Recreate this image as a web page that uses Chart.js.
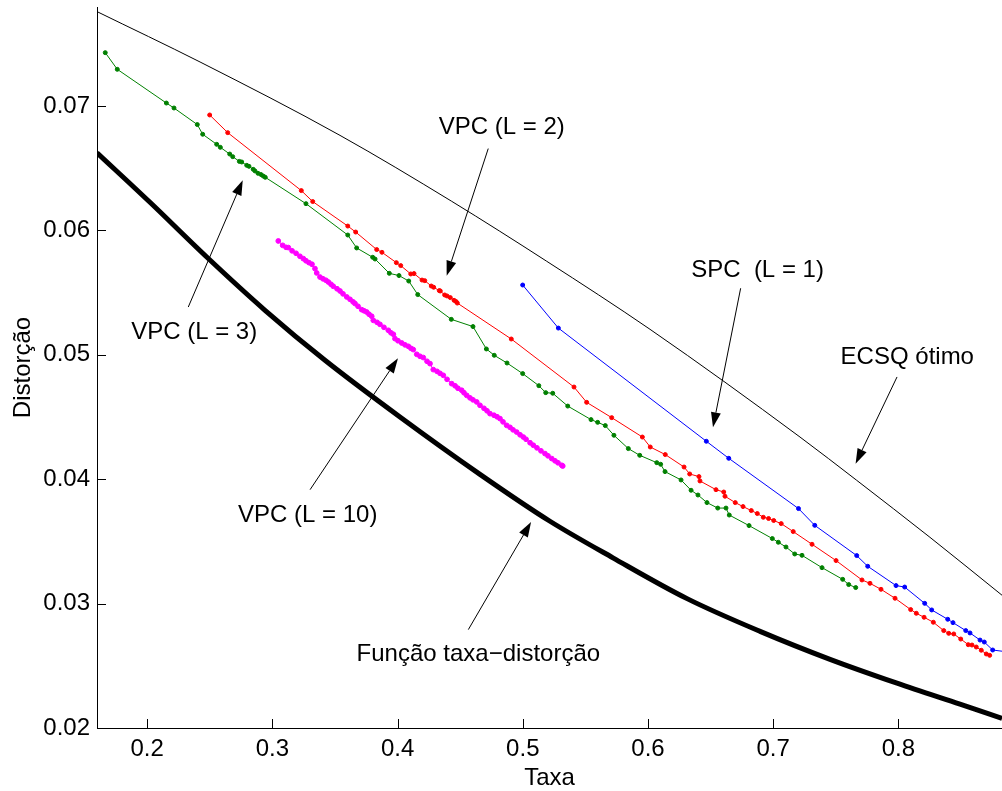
<!DOCTYPE html>
<html>
<head>
<meta charset="utf-8">
<script src="https://cdn.jsdelivr.net/npm/chart.js@4/dist/chart.umd.min.js"></script>
<style>
  body { margin: 0; background: #fff; }
  canvas { display: block; }
</style>
</head>
<body>
<canvas id="rd" width="1002" height="791"></canvas>
<script>
// Funcao taxa-distorcao (thick black)
var rdX = [0.1599, 0.2022, 0.2486, 0.2941, 0.3420, 0.4019, 0.4658, 0.5217, 0.5720, 0.6312, 0.6895, 0.7454, 0.7989, 0.8492, 0.8828];
var rdY = [0.06624, 0.06226, 0.05776, 0.05358, 0.04956, 0.04500, 0.04039, 0.03662, 0.03368, 0.03040, 0.02777, 0.02552, 0.02360, 0.02191, 0.02078];

// ECSQ otimo (thin black)
var ecsqX = [0.1599, 0.2422, 0.3540, 0.4432, 0.5191, 0.6016, 0.7214, 0.7667, 0.8252, 0.8828];
var ecsqY = [0.07759, 0.07354, 0.06764, 0.06234, 0.05752, 0.05205, 0.04339, 0.03991, 0.03533, 0.03067];

// SPC (L = 1)
var spcX = [0.4999, 0.5284, 0.6466, 0.6645, 0.7202, 0.7332, 0.7667, 0.7755, 0.7981, 0.8050, 0.8210, 0.8266, 0.8394, 0.8436, 0.8538, 0.8572, 0.8652, 0.8686, 0.8753, 0.8900];
var spcY = [0.05561, 0.05215, 0.04305, 0.04168, 0.03764, 0.03629, 0.03386, 0.03300, 0.03145, 0.03133, 0.03002, 0.02949, 0.02874, 0.02847, 0.02783, 0.02764, 0.02707, 0.02691, 0.02627, 0.02608];

// VPC (L = 2)
var vpc2X = [0.2499, 0.2643, 0.3231, 0.3322, 0.3602, 0.3665, 0.3833, 0.3875, 0.3990, 0.4025, 0.4105, 0.4131, 0.4195, 0.4217, 0.4269, 0.4288, 0.4333, 0.4341, 0.4376, 0.4395, 0.4421, 0.4451, 0.4467, 0.4477,
             0.4908, 0.5409, 0.5510, 0.5710, 0.5955, 0.6018, 0.6138, 0.6288, 0.6333, 0.6407, 0.6415, 0.6543, 0.6605, 0.6615, 0.6697, 0.6759, 0.6825, 0.6873, 0.6921, 0.6963, 0.7004, 0.7064, 0.7160,
             0.7310, 0.7502, 0.7709, 0.7773, 0.7861, 0.7973, 0.8098, 0.8143, 0.8205, 0.8279, 0.8362, 0.8402, 0.8442, 0.8498, 0.8558, 0.8588, 0.8622, 0.8662, 0.8702, 0.8729];
var vpc2Y = [0.06928, 0.06786, 0.06320, 0.06232, 0.06035, 0.05987, 0.05846, 0.05824, 0.05741, 0.05717, 0.05650, 0.05653, 0.05601, 0.05596, 0.05553, 0.05543, 0.05516, 0.05513, 0.05481, 0.05473, 0.05460, 0.05438, 0.05428, 0.05416,
             0.05127, 0.04741, 0.04618, 0.04495, 0.04339, 0.04259, 0.04198, 0.04098, 0.04042, 0.04021, 0.03986, 0.03916, 0.03897, 0.03863, 0.03812, 0.03780, 0.03748, 0.03724, 0.03694, 0.03684, 0.03668, 0.03643, 0.03579,
             0.03477, 0.03346, 0.03190, 0.03163, 0.03115, 0.03043, 0.02952, 0.02922, 0.02890, 0.02850, 0.02783, 0.02761, 0.02756, 0.02715, 0.02670, 0.02667, 0.02651, 0.02625, 0.02595, 0.02584];

// VPC (L = 3)
var vpc3X = [0.1665, 0.1761, 0.2153, 0.2214, 0.2400, 0.2443, 0.2555, 0.2584, 0.2659, 0.2683, 0.2736, 0.2755, 0.2795, 0.2813, 0.2847, 0.2861, 0.2885, 0.2909, 0.2927, 0.2943,
             0.3268, 0.3602, 0.3673, 0.3801, 0.3820, 0.3934, 0.4011, 0.4089, 0.4161, 0.4429, 0.4602, 0.4709, 0.4772, 0.4874, 0.4999, 0.5128, 0.5183, 0.5239, 0.5359,
             0.5545, 0.5598, 0.5659, 0.5728, 0.5843, 0.5934, 0.6070, 0.6101, 0.6136, 0.6264, 0.6344, 0.6399, 0.6471, 0.6557, 0.6623, 0.6649, 0.6807,
             0.6993, 0.7041, 0.7102, 0.7172, 0.7230, 0.7390, 0.7555, 0.7603, 0.7659];
var vpc3Y = [0.07429, 0.07295, 0.07024, 0.06984, 0.06851, 0.06773, 0.06692, 0.06668, 0.06614, 0.06593, 0.06555, 0.06550, 0.06523, 0.06515, 0.06491, 0.06478, 0.06459, 0.06449, 0.06437, 0.06427,
             0.06215, 0.05963, 0.05859, 0.05784, 0.05770, 0.05655, 0.05637, 0.05593, 0.05484, 0.05285, 0.05227, 0.05047, 0.04996, 0.04934, 0.04849, 0.04752, 0.04696, 0.04691, 0.04588,
             0.04479, 0.04457, 0.04431, 0.04353, 0.04246, 0.04192, 0.04133, 0.04120, 0.04061, 0.03994, 0.03911, 0.03873, 0.03812, 0.03768, 0.03768, 0.03712, 0.03627,
             0.03523, 0.03493, 0.03455, 0.03399, 0.03388, 0.03289, 0.03195, 0.03153, 0.03129];

// VPC (L = 10)
var vpc10X = [0.3047, 0.3082, 0.3109, 0.3127, 0.3157, 0.3189, 0.3220, 0.3247, 0.3268, 0.3292, 0.3316, 0.3340, 0.3354, 0.3380, 0.3404, 0.3428, 0.3447, 0.3468, 0.3486, 0.3516,
              0.3540, 0.3564, 0.3594, 0.3620, 0.3644, 0.3660, 0.3684, 0.3713, 0.3732, 0.3753, 0.3772, 0.3793, 0.3806, 0.3836, 0.3859, 0.3891, 0.3926, 0.3947, 0.3966, 0.3979,
              0.4003, 0.4033, 0.4059, 0.4086, 0.4107, 0.4125, 0.4153, 0.4179, 0.4205, 0.4235, 0.4259, 0.4285, 0.4315, 0.4339, 0.4365, 0.4395, 0.4432, 0.4459, 0.4482, 0.4512,
              0.4530, 0.4552, 0.4578, 0.4602, 0.4632, 0.4658, 0.4690, 0.4714, 0.4738, 0.4770, 0.4794, 0.4818, 0.4842, 0.4871, 0.4898, 0.4922, 0.4951, 0.4978, 0.5004, 0.5026,
              0.5058, 0.5084, 0.5113, 0.5145, 0.5177, 0.5201, 0.5231, 0.5257, 0.5281, 0.5311, 0.5319];
var vpc10Y = [0.05915, 0.05880, 0.05864, 0.05862, 0.05836, 0.05816, 0.05792, 0.05773, 0.05756, 0.05741, 0.05728, 0.05693, 0.05658, 0.05625, 0.05611, 0.05599, 0.05585, 0.05567, 0.05551, 0.05531,
              0.05513, 0.05490, 0.05465, 0.05446, 0.05426, 0.05412, 0.05390, 0.05363, 0.05354, 0.05344, 0.05326, 0.05310, 0.05277, 0.05261, 0.05245, 0.05221, 0.05197, 0.05177, 0.05165, 0.05130,
              0.05113, 0.05095, 0.05080, 0.05068, 0.05052, 0.05042, 0.05004, 0.04988, 0.04978, 0.04948, 0.04929, 0.04881, 0.04867, 0.04851, 0.04835, 0.04803, 0.04768, 0.04751, 0.04731, 0.04715,
              0.04695, 0.04674, 0.04654, 0.04638, 0.04621, 0.04594, 0.04570, 0.04550, 0.04527, 0.04514, 0.04502, 0.04487, 0.04461, 0.04433, 0.04417, 0.04397, 0.04379, 0.04357, 0.04339, 0.04321,
              0.04293, 0.04273, 0.04252, 0.04228, 0.04206, 0.04188, 0.04166, 0.04148, 0.04132, 0.04112, 0.04106];

var xTicks = [0.2, 0.3, 0.4, 0.5, 0.6, 0.7, 0.8];
var yTicks = [0.02, 0.03, 0.04, 0.05, 0.06, 0.07];

// text labels with their arrows, in data units: [text, x, y, tailX, tailY, tipX, tipY]
var notes = [
  ['VPC (L = 2)', 0.4832, 0.06778, 0.4724, 0.06658, 0.4392, 0.05635],
  ['SPC  (L = 1)', 0.6875, 0.05625, 0.6740, 0.05535, 0.6519, 0.04417],
  ['ECSQ ótimo', 0.8071, 0.04929, 0.7989, 0.04822, 0.7658, 0.04125],
  ['VPC (L = 3)', 0.2375, 0.05129, 0.2328, 0.05384, 0.2763, 0.06403],
  ['VPC (L = 10)', 0.3282, 0.03656, 0.3301, 0.03916, 0.4003, 0.04972],
  ['Função taxa\u2212distorção', 0.4645, 0.02536, 0.4565, 0.02791, 0.5066, 0.03656]
];

function pts(xs, ys) {
  return xs.map(function (v, i) { return {x: v, y: ys[i]}; });
}

function series(label, xs, ys, color, width, radius) {
  return {
    label: label,
    data: pts(xs, ys),
    borderColor: color,
    backgroundColor: color,
    borderWidth: width,
    pointRadius: radius,
    pointBorderWidth: radius ? 1 : 0,
    pointBackgroundColor: color,
    pointBorderColor: color,
    tension: 0
  };
}

Chart.defaults.font.family = '"Liberation Sans", Arial, sans-serif';
Chart.defaults.font.size = 24;
Chart.defaults.color = '#000';

var notesPlugin = {
  id: 'notes',
  afterDatasetsDraw: function (chart) {
    var ctx = chart.ctx, x = chart.scales.x, y = chart.scales.y;
    ctx.save();
    ctx.strokeStyle = '#000';
    ctx.fillStyle = '#000';
    ctx.lineWidth = 1;
    notes.forEach(function (n) {
      var x0 = x.getPixelForValue(n[3]), y0 = y.getPixelForValue(n[4]);
      var x1 = x.getPixelForValue(n[5]), y1 = y.getPixelForValue(n[6]);
      var a = Math.atan2(y1 - y0, x1 - x0), len = 15, hw = 5;
      var bx = x1 - len * Math.cos(a), by = y1 - len * Math.sin(a);
      ctx.beginPath();
      ctx.moveTo(x0, y0);
      ctx.lineTo(bx, by);
      ctx.stroke();
      ctx.beginPath();
      ctx.moveTo(x1, y1);
      ctx.lineTo(bx + hw * Math.sin(a), by - hw * Math.cos(a));
      ctx.lineTo(bx - hw * Math.sin(a), by + hw * Math.cos(a));
      ctx.closePath();
      ctx.fill();
    });
    ctx.font = '24px "Liberation Sans", Arial, sans-serif';
    ctx.textAlign = 'center';
    ctx.textBaseline = 'alphabetic';
    notes.forEach(function (n) {
      ctx.fillText(n[0], x.getPixelForValue(n[1]), y.getPixelForValue(n[2]));
    });
    ctx.restore();
  },
  afterDraw: function (chart) {
    // inward tick marks, matlab style
    var ctx = chart.ctx, x = chart.scales.x, y = chart.scales.y, area = chart.chartArea;
    ctx.save();
    ctx.strokeStyle = '#000';
    ctx.lineWidth = 1;
    ctx.beginPath();
    xTicks.forEach(function (v) {
      var px = Math.round(x.getPixelForValue(v)) + 0.5;
      ctx.moveTo(px, area.bottom);
      ctx.lineTo(px, area.bottom - 9);
    });
    yTicks.forEach(function (v) {
      var py = Math.round(y.getPixelForValue(v)) + 0.5;
      ctx.moveTo(area.left, py);
      ctx.lineTo(area.left + 9, py);
    });
    ctx.stroke();
    ctx.restore();
  }
};

var smooth = {cubicInterpolationMode: 'monotone'};

new Chart(document.getElementById('rd'), {
  type: 'line',
  data: {
    datasets: [
      Object.assign(series('Função taxa-distorção', rdX, rdY, '#000000', 5, 0), smooth),
      Object.assign(series('ECSQ ótimo', ecsqX, ecsqY, '#000000', 1, 0), smooth),
      series('SPC (L = 1)', spcX, spcY, '#0000ff', 1, 2),
      series('VPC (L = 2)', vpc2X, vpc2Y, '#ff0000', 1, 2),
      series('VPC (L = 3)', vpc3X, vpc3Y, '#008000', 1, 2),
      series('VPC (L = 10)', vpc10X, vpc10Y, '#ff00ff', 1, 2.4)
    ]
  },
  options: {
    responsive: false,
    animation: false,
    devicePixelRatio: 1,
    layout: {autoPadding: false, padding: {top: 7, right: 0, bottom: 0, left: 0}},
    plugins: {legend: {display: false}, tooltip: {enabled: false}},
    scales: {
      x: {
        type: 'linear',
        min: 0.1599,
        max: 0.88275,
        grid: {display: false, drawTicks: false},
        border: {display: true, color: '#000', width: 1},
        ticks: {
          stepSize: 0.1,
          includeBounds: false,
          padding: 7,
          maxRotation: 0,
          callback: function (v) { return v.toFixed(1); }
        },
        title: {display: true, text: 'Taxa', font: {size: 24, lineHeight: 1}, padding: {top: 0, bottom: 1}},
        afterFit: function (s) { s.height = 63; s.paddingLeft = 0; s.paddingRight = 0; }
      },
      y: {
        type: 'linear',
        min: 0.02,
        max: 0.07796,
        grid: {display: false, drawTicks: false},
        border: {display: true, color: '#000', width: 1},
        ticks: {
          stepSize: 0.01,
          includeBounds: false,
          padding: 7,
          callback: function (v) { return v.toFixed(2); }
        },
        title: {display: true, text: 'Distorção', font: {size: 24, lineHeight: 1}, padding: {top: 11, bottom: 0}},
        afterFit: function (s) { s.width = 97; s.paddingTop = 0; s.paddingBottom = 0; }
      }
    }
  },
  plugins: [notesPlugin]
});
</script>
</body>
</html>
